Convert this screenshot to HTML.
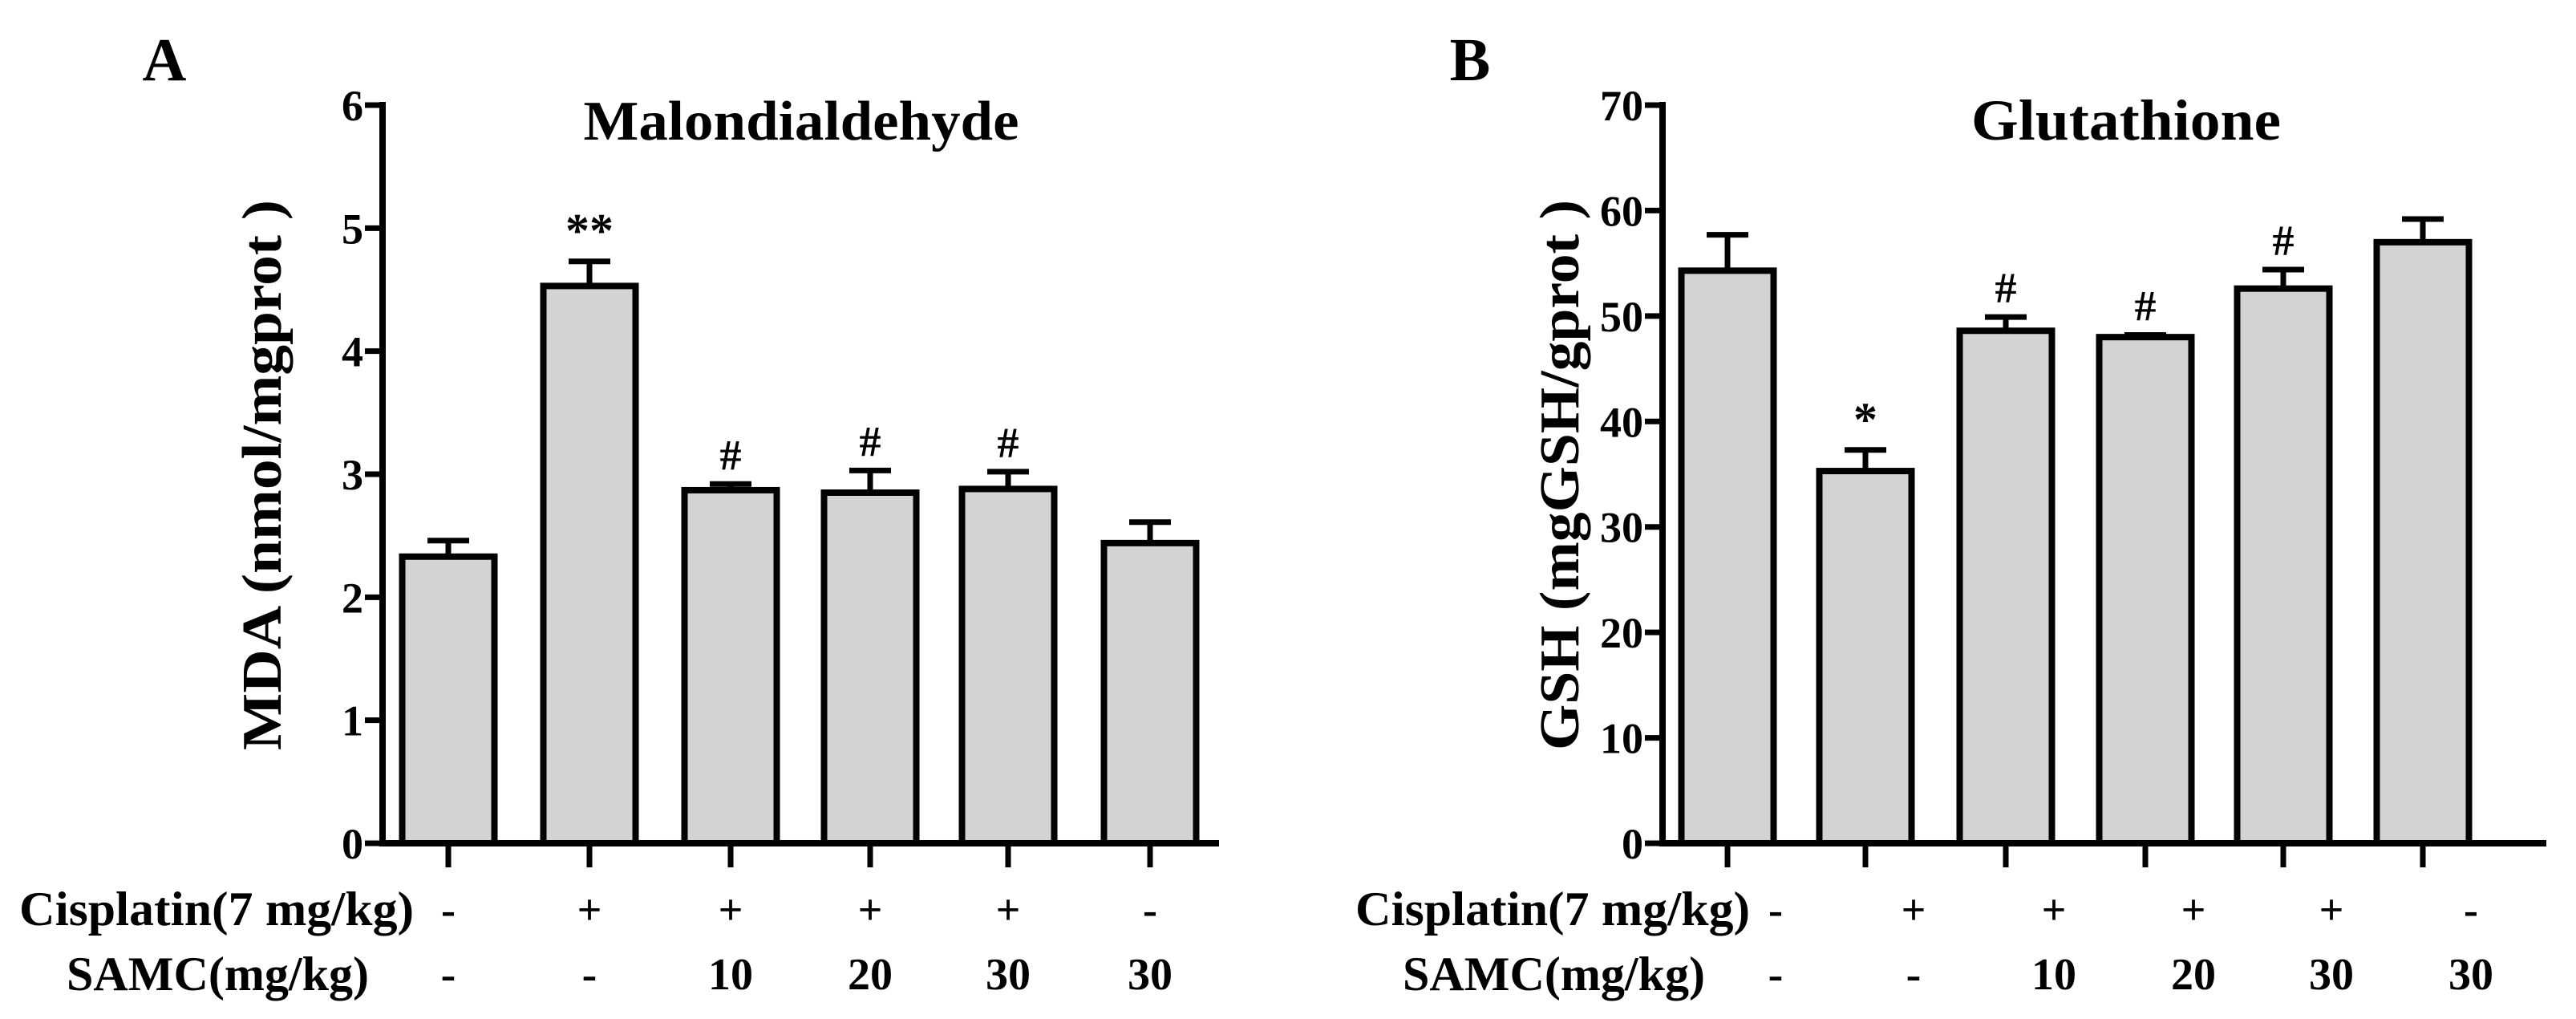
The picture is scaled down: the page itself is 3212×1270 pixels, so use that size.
<!DOCTYPE html>
<html><head><meta charset="utf-8"><style>
html,body{margin:0;padding:0;background:#fff}
svg{display:block}
text{font-family:"Liberation Serif",serif;font-weight:bold;fill:#000}
</style></head><body>
<svg id="chart" width="3212" height="1270" viewBox="0 0 3212 1270" xmlns="http://www.w3.org/2000/svg"></svg>
<script>
const mdaValues=[2.33,4.53,2.87,2.85,2.88,2.44];
const mdaErrors=[0.13,0.2,0.05,0.18,0.14,0.17];
const mdaMarks=["","**","#","#","#",""];
const mdaTicks=[0,1,2,3,4,5,6];
const gshValues=[54.3,35.3,48.6,48.0,52.6,57.0];
const gshErrors=[3.4,2.0,1.3,0.2,1.8,2.2];
const gshMarks=["","*","#","#","#",""];
const gshTicks=[0,10,20,30,40,50,60,70];
const cisplatinRow=["-","+","+","+","+","-"];
const samcRow=["-","-","10","20","30","30"];

const NS="http://www.w3.org/2000/svg";
const svg=document.getElementById('chart');
function mk(tag,attrs,parent,txt){const e=document.createElementNS(NS,tag);for(const k in attrs)e.setAttribute(k,attrs[k]);if(txt!==undefined)e.textContent=txt;(parent||svg).appendChild(e);return e;}

function panel(o){
  const g=mk('g',{});
  
  
  const y0=1051,yTop=131;
  const ymax=o.ticks[o.ticks.length-1];
  const ys=v=>y0-(v/ymax)*(y0-yTop);
  const bw=115;
  o.values.forEach((v,i)=>{
    const cx=o.centers[i];
    const top=ys(v), et=ys(v+o.errors[i]);
    const eb=mk('line',{x1:cx,x2:cx,y1:top,y2:et,stroke:'#000','stroke-width':7},g);
    
    
    const cap=mk('line',{x1:cx-26,x2:cx+26,y1:et,y2:et,stroke:'#000','stroke-width':7},g);
    
    
    const r=mk('rect',{x:cx-bw/2,y:top,width:bw,height:y0-top,fill:'#d3d3d3',stroke:'#000','stroke-width':8},g);
    
    
    if(o.marks[i]){
      const m=mk('text',{x:cx,y:et-18,'text-anchor':'middle','font-size':o.marks[i]=='#'?54:60,'font-weight':'normal'},g,o.marks[i]);
      
      
    }
    const xt=mk('line',{x1:cx,x2:cx,y1:y0,y2:y0+30,stroke:'#000','stroke-width':7},g);
    
    
    const lx=cx+o.labOff;
    const c1=mk('text',{x:lx,y:1152,'text-anchor':'middle','font-size':54},g,cisplatinRow[i]);
    
    
    const c2=mk('text',{x:lx,y:1233,'text-anchor':'middle','font-size':56},g,samcRow[i]);
    
    
  });
  const ya=mk('line',{x1:o.ax,x2:o.ax,y1:yTop-4,y2:y0+4,stroke:'#000','stroke-width':8},g);
  
  
  const xa=mk('line',{x1:o.ax-4,x2:o.xEnd,y1:y0,y2:y0,stroke:'#000','stroke-width':8},g);
  
  
  o.ticks.forEach(t=>{
    const y=ys(t);
    const tk=mk('line',{x1:o.ax-22,x2:o.ax,y1:y,y2:y,stroke:'#000','stroke-width':7},g);
    
    
    const tl=mk('text',{x:o.ax-24,y:y+19,'text-anchor':'end','font-size':54},g,String(t));
    
    
  });
  const ti=mk('text',{x:o.titleX-o.titleW/2,y:174,'font-size':o.titleFs,textLength:o.titleW,lengthAdjust:'spacingAndGlyphs'},g,o.title);
  
  
  const yl=mk('text',{x:-343,y:0,'font-size':70,textLength:686,lengthAdjust:'spacingAndGlyphs',transform:`translate(${o.ylx},592) rotate(-90)`},g,o.ylabel);
  
  
  const pl=mk('text',{x:o.letterX,y:100,'text-anchor':'middle','font-size':76},g,o.letter);
  
  
  const r1=mk('text',{x:o.rowX-492,y:1153,'font-size':60,textLength:492,lengthAdjust:'spacingAndGlyphs'},g,'Cisplatin(7 mg/kg)');
  
  
  const r2=mk('text',{x:o.rowX-56-377,y:1234,'font-size':60,textLength:377,lengthAdjust:'spacingAndGlyphs'},g,'SAMC(mg/kg)');
  
  
}
panel({name:'panel-a-mda',values:mdaValues,errors:mdaErrors,marks:mdaMarks,ticks:mdaTicks,
  centers:[559,735,911,1085,1257,1434],labOff:0,ax:477,xEnd:1520,title:'Malondialdehyde',titleX:999,titleW:543,titleFs:70,
  ylabel:'MDA (nmol/mgprot )',ylx:350,letter:'A',letterX:205,rowX:516});
panel({name:'panel-b-gsh',values:gshValues,errors:gshErrors,marks:gshMarks,ticks:gshTicks,
  centers:[2154,2326,2501,2675,2847,3021],labOff:60,ax:2073,xEnd:3175,title:'Glutathione',titleX:2651,titleW:386,titleFs:72,
  ylabel:'GSH (mgGSH/gprot )',ylx:1968,letter:'B',letterX:1833,rowX:2182});
</script>
</body></html>
